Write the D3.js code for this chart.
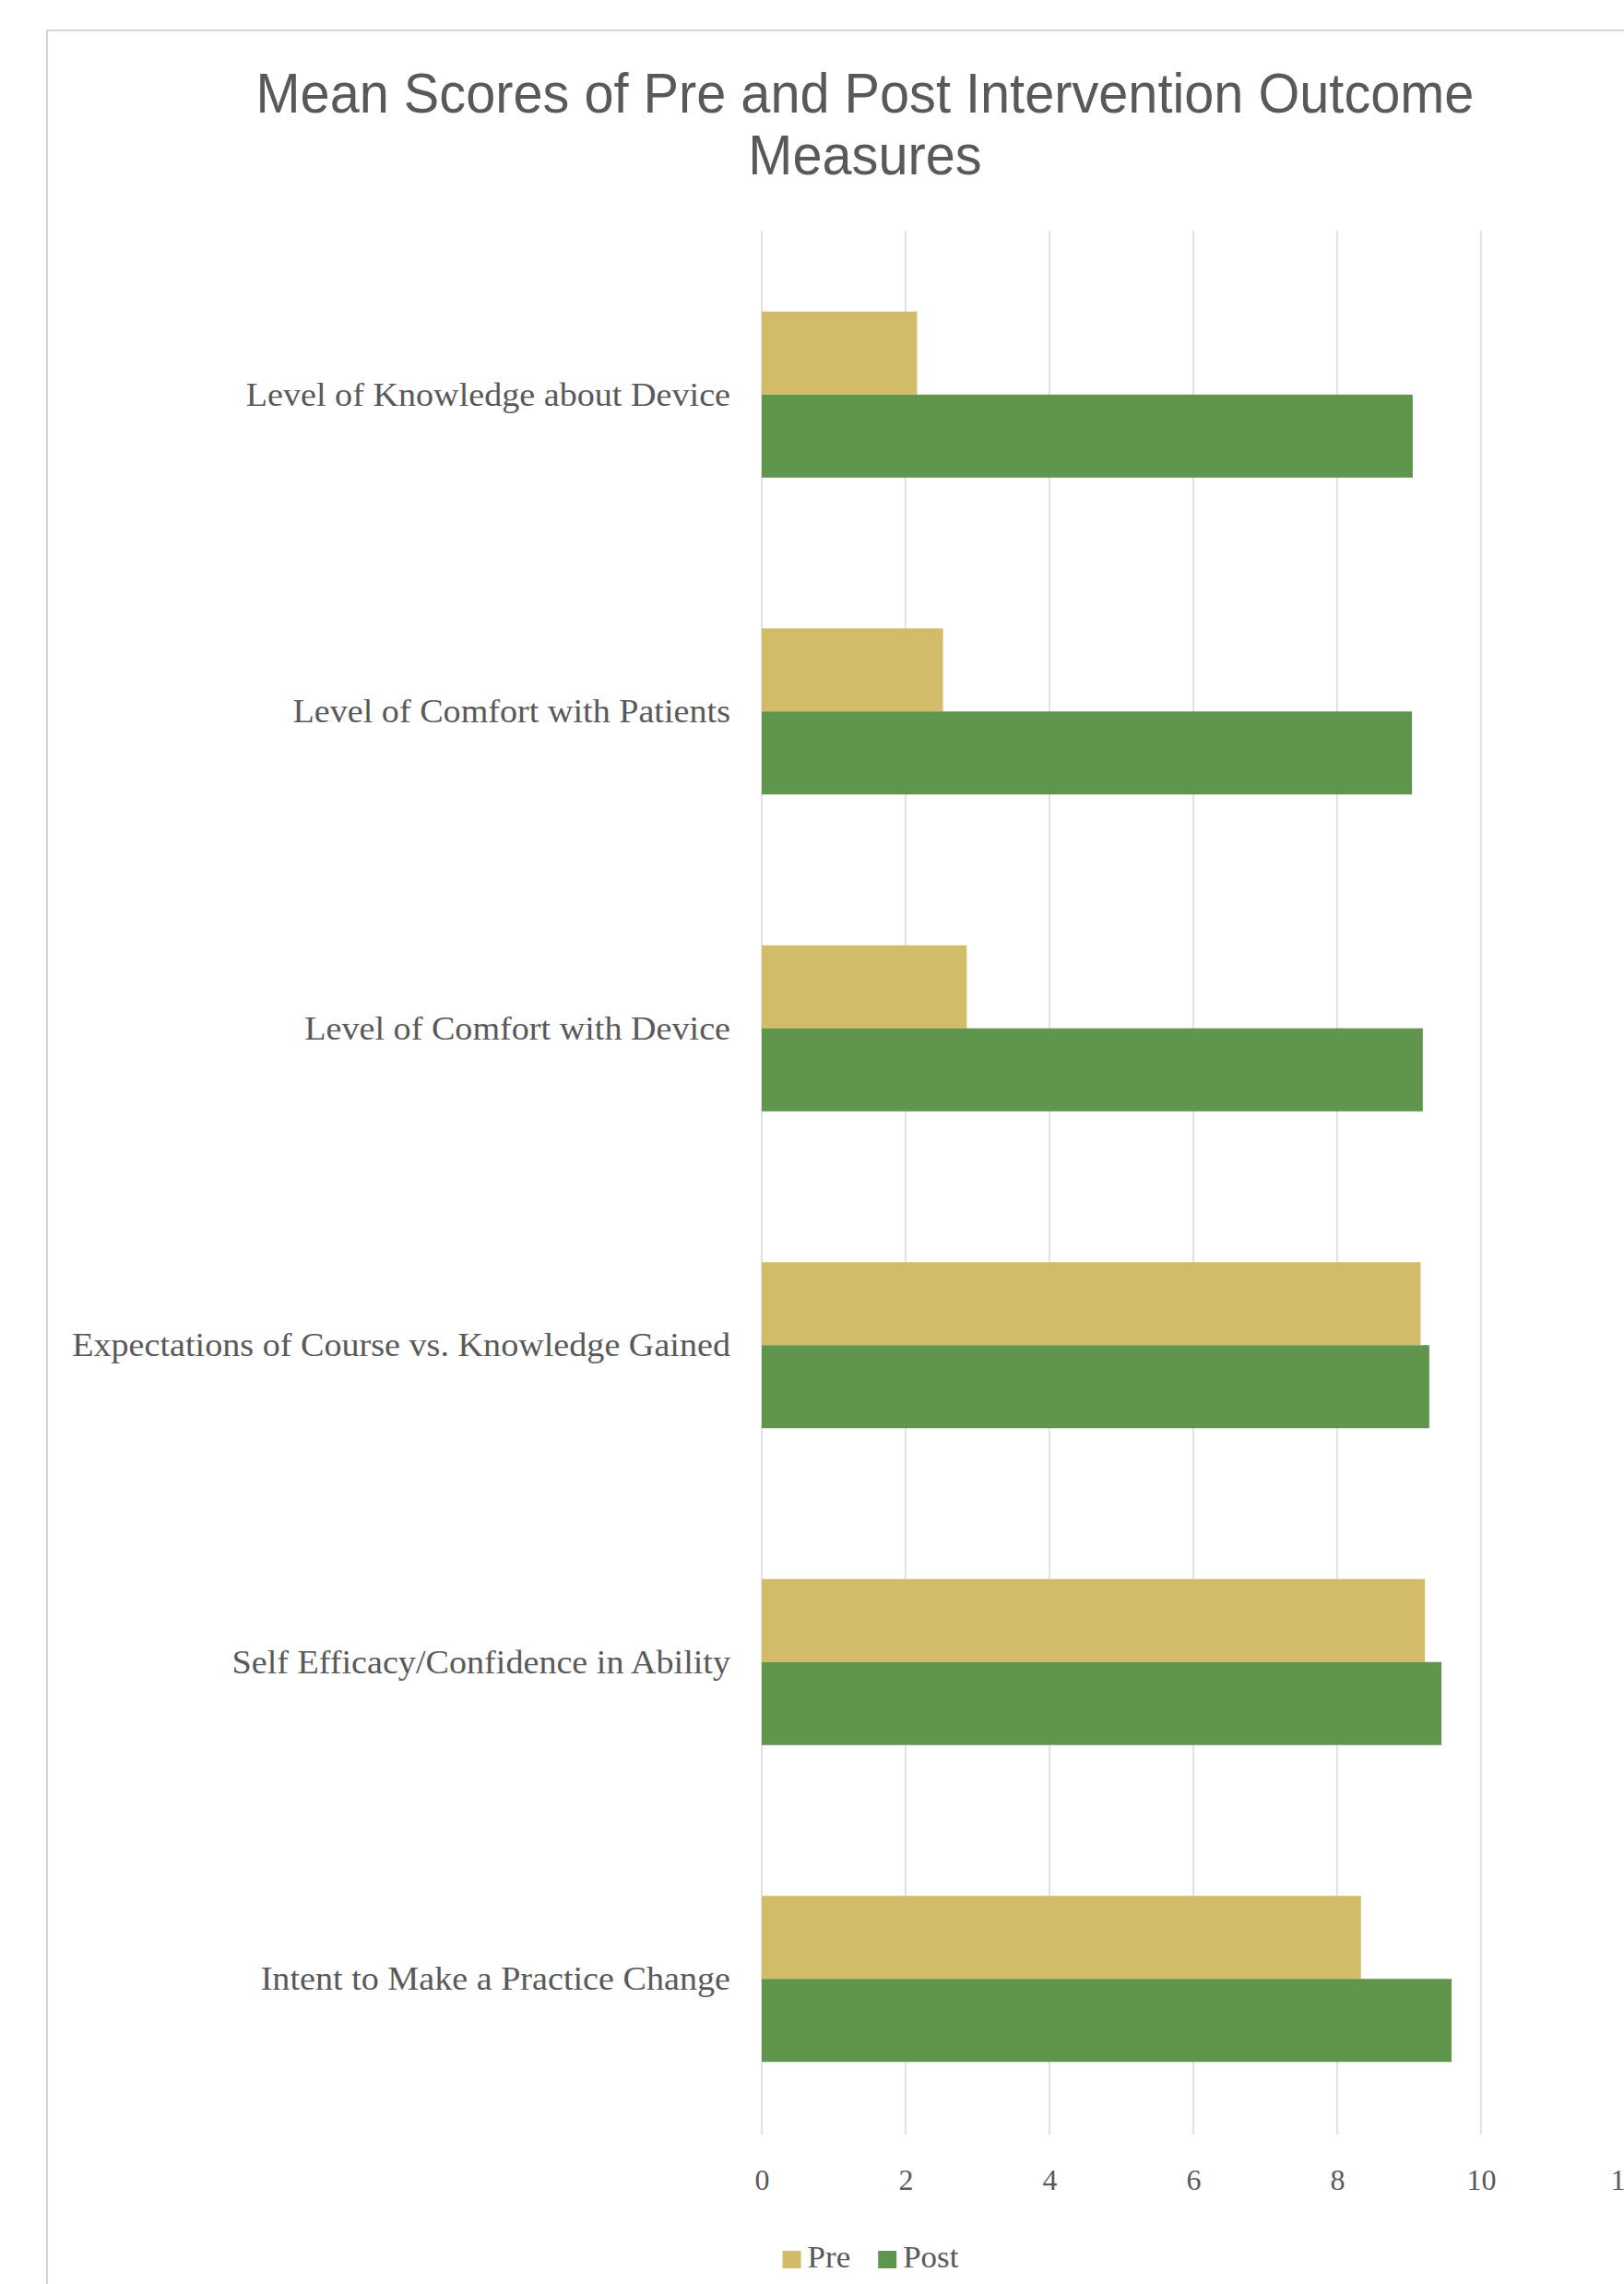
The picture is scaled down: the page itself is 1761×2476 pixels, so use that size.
<!DOCTYPE html>
<html>
<head>
<meta charset="utf-8">
<script src="https://cdn.jsdelivr.net/npm/d3@7"></script>
<style>
  html, body { margin: 0; padding: 0; background: #ffffff; }
  svg { display: block; }
</style>
</head>
<body>
<script>
// ---- Data ----
const titleLines = ["Mean Scores of Pre and Post Intervention Outcome", "Measures"];
const categories = [
  "Level of Knowledge about Device",
  "Level of Comfort with Patients",
  "Level of Comfort with Device",
  "Expectations of Course vs. Knowledge Gained",
  "Self Efficacy/Confidence in Ability",
  "Intent to Make a Practice Change"
];
const seriesNames = ["Pre", "Post"];
const preValues  = [2.16, 2.52, 2.85, 9.16, 9.22, 8.33];
const postValues = [9.05, 9.04, 9.19, 9.28, 9.45, 9.59];
const xTicks = [0, 2, 4, 6, 8, 10, 12];
const colors = { Pre: "#d2bc6a", Post: "#5f954c" };

const W = 1761, H = 2476;
const svg = d3.select("body").append("svg").attr("width", W).attr("height", H);

// chart border
svg.append("rect").attr("x", 51).attr("y", 33).attr("width", 1800).attr("height", 2600)
  .attr("fill", "#ffffff").attr("stroke", "#d4d4d4").attr("stroke-width", 2);

const x = d3.scaleLinear().domain([0, 12]).range([826, 1762]);
const y = d3.scaleBand().domain(categories).range([256, 2317])
  .paddingInner(0.476).paddingOuter(0.238);
const ySub = d3.scaleBand().domain(seriesNames).range([0, y.bandwidth()]);

// gridlines
svg.append("g").selectAll("line").data(xTicks).join("line")
  .attr("x1", d => x(d)).attr("x2", d => x(d))
  .attr("y1", 250).attr("y2", 2314)
  .attr("stroke", "#d9d9d9").attr("stroke-width", 1.5);

// bars
const rows = categories.map((c, i) => ({ cat: c, Pre: preValues[i], Post: postValues[i] }));
const groups = svg.append("g").selectAll("g").data(rows).join("g")
  .attr("transform", d => `translate(0,${y(d.cat)})`);
groups.selectAll("rect").data(d => seriesNames.map(s => ({ s, v: d[s] }))).join("rect")
  .attr("x", x(0)).attr("y", d => ySub(d.s))
  .attr("width", d => x(d.v) - x(0)).attr("height", ySub.bandwidth())
  .attr("fill", d => colors[d.s]);

// helper for horizontally compressed text
function squeeze(sel, sx) {
  sel.each(function () {
    const t = d3.select(this);
    const ax = +t.attr("x"), ay = +t.attr("y");
    t.attr("transform", `translate(${ax},${ay}) scale(${sx},1) translate(${-ax},${-ay})`);
  });
}

const serif = "'Liberation Serif', 'DejaVu Serif', serif";
const sans = "'Liberation Sans', Arial, sans-serif";

// category labels (custom left axis)
const catLabels = svg.append("g").selectAll("text").data(categories).join("text")
  .attr("x", 792).attr("y", d => y(d) + y.bandwidth() / 2 + 12)
  .attr("text-anchor", "end")
  .attr("font-family", serif).attr("font-size", 36)
  .attr("fill", "#595959")
  .text(d => d);
const longest = catLabels.nodes().reduce((m, n) => Math.max(m, n.getComputedTextLength()), 0);
const catSx = 714 / longest;
squeeze(catLabels, catSx);

// x axis tick labels via d3 axis
const xAxis = d3.axisBottom(x).tickValues(xTicks).tickSize(0).tickPadding(0);
const gx = svg.append("g").attr("transform", "translate(0,2350)").call(xAxis);
gx.select(".domain").remove();
gx.selectAll("text")
  .attr("font-family", serif).attr("font-size", 32).attr("fill", "#595959")
  .attr("dy", "0.74em");

// title
const title = svg.append("g").selectAll("text").data(titleLines).join("text")
  .attr("x", 938).attr("y", (d, i) => 122 + i * 67)
  .attr("text-anchor", "middle")
  .attr("font-family", sans).attr("font-size", 61)
  .attr("fill", "#595959")
  .text(d => d);
const tW = title.nodes()[0].getComputedTextLength();
squeeze(title, 1321 / tW);

// legend
const legend = svg.append("g");
let lx = 0;
seriesNames.forEach((s, i) => {
  const g = legend.append("g");
  g.append("rect").attr("x", lx).attr("y", -18).attr("width", 20).attr("height", 19).attr("fill", colors[s]);
  const t = g.append("text").attr("x", lx + 27).attr("y", 0)
    .attr("font-family", serif).attr("font-size", 33).attr("fill", "#595959").text(s);
  const w = t.node().getComputedTextLength() * catSx;
  squeeze(t, catSx);
  lx += 27 + w + 30;
});
const legendW = lx - 30;
legend.attr("transform", `translate(${944 - legendW / 2},2458)`);
</script>
</body>
</html>
